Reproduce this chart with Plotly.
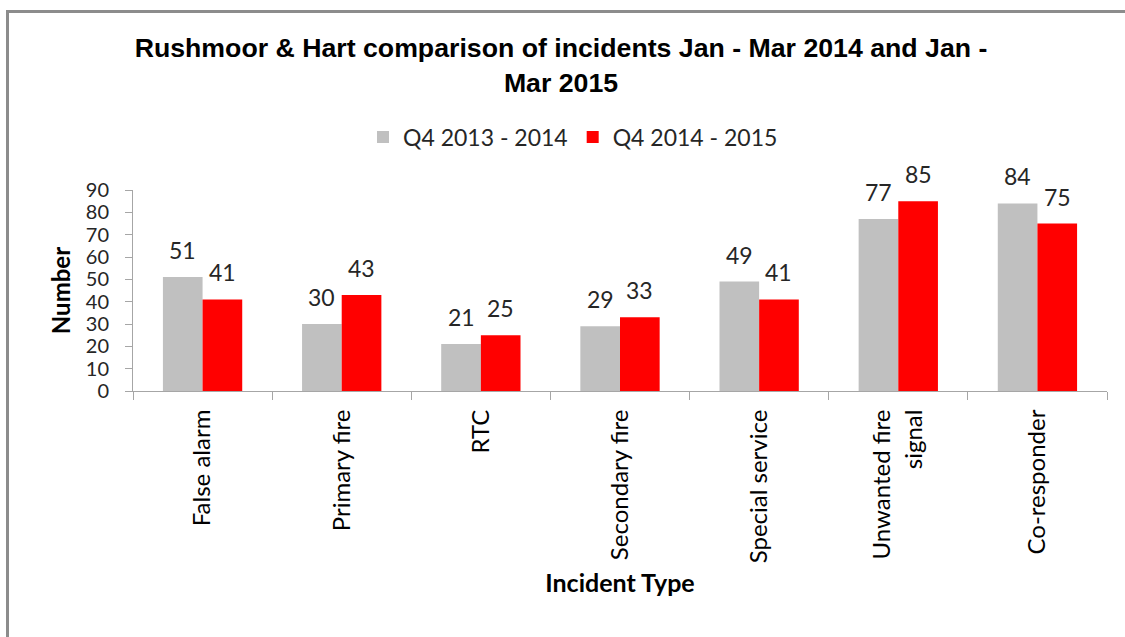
import plotly.graph_objects as go

categories = ["False alarm", "Primary fire", "RTC", "Secondary fire",
              "Special service", "Unwanted fire<br>signal", "Co-responder"]
series_2013_14 = [51, 30, 21, 29, 49, 77, 84]
series_2014_15 = [41, 43, 25, 33, 41, 85, 75]
series_names = ["Q4 2013 - 2014", "Q4 2014 - 2015"]
y_ticks = [0, 10, 20, 30, 40, 50, 60, 70, 80, 90]

GRAY = "#c0c0c0"
RED = "#ff0000"
BODY_FONT = "Lato"

fig = go.Figure()
fig.add_trace(go.Bar(x=categories, y=series_2013_14, name=series_names[0],
                     marker=dict(color=GRAY, line=dict(width=0))))
fig.add_trace(go.Bar(x=categories, y=series_2014_15, name=series_names[1],
                     marker=dict(color=RED, line=dict(width=0))))

L, R, T, B = 133, 18, 190, 246
W, H = 1125, 637
pw, ph = W - L - R, H - T - B
bargap = 0.43
bar_px = pw / len(categories) * (1 - bargap) / 2

annotations = []
for vals, sh in ((series_2013_14, -bar_px / 2), (series_2014_15, bar_px / 2)):
    for c, v in zip(categories, vals):
        annotations.append(dict(x=c, y=v, xref="x", yref="y", text=str(v),
                                showarrow=False, xshift=sh, yshift=11,
                                yanchor="bottom",
                                font=dict(family=BODY_FONT, size=23, color="#262626")))

fig.update_layout(
    width=W, height=H,
    margin=dict(l=L, r=R, t=T, b=B, autoexpand=False),
    paper_bgcolor="white", plot_bgcolor="white",
    barmode="group", bargap=bargap, bargroupgap=0,
    title=dict(text="Rushmoor & Hart comparison of incidents Jan - Mar 2014 and Jan -<br>Mar 2015",
               x=561 / W, xanchor="center", y=1 - 57 / H, yanchor="top",
               font=dict(family="Liberation Sans", size=26.7, color="black", weight="bold")),
    legend=dict(orientation="h", x=(573 - L) / pw, xanchor="center",
                y=(H - B - 137) / ph, yanchor="middle",
                font=dict(family=BODY_FONT, size=23, color="#262626"),
                itemwidth=30, traceorder="normal", bgcolor="rgba(0,0,0,0)"),
    annotations=annotations,
    showlegend=True,
)

fig.update_yaxes(range=[0, 90], tickvals=y_ticks, showgrid=False, zeroline=False,
                 showline=True, linecolor="#a6a6a6", linewidth=1,
                 ticks="outside", ticklen=7, tickcolor="#a6a6a6", ticklabelstandoff=12,
                 tickfont=dict(family=BODY_FONT, size=20, color="#262626"),
                 title=dict(text="Number", standoff=8,
                            font=dict(family=BODY_FONT, size=24, color="black", weight="bold")))
fig.update_xaxes(showgrid=False, showline=True, linecolor="#a6a6a6", linewidth=1,
                 ticks="outside", ticklen=8, tickcolor="#a6a6a6", tickson="boundaries",
                 tickangle=-90, ticklabelstandoff=8,
                 tickfont=dict(family=BODY_FONT, size=24, color="black"),
                 title=dict(text="Incident Type", standoff=12,
                            font=dict(family=BODY_FONT, size=25, color="black", weight="bold")))

# outer chart border
fig.add_shape(type="rect", xref="paper", yref="paper",
              x0=(7.5 - L) / pw, x1=(1140 - L) / pw,
              y0=(H - B - 660) / ph, y1=(H - B - 11.5) / ph,
              line=dict(color="#8c8c8c", width=3), fillcolor="rgba(0,0,0,0)", layer="below")

fig.write_html("out.html", config={"displayModeBar": False},
               post_script="document.body.style.margin='0';document.documentElement.style.overflow='hidden';")
